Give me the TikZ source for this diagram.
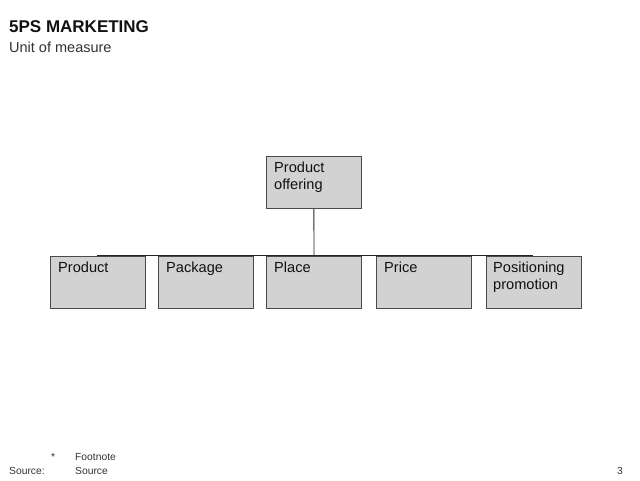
\documentclass[tikz,border=0pt]{standalone}
\usepackage{fontspec}
\setmainfont{Liberation Sans}
\definecolor{boxfill}{HTML}{D2D2D2}
\definecolor{boxline}{HTML}{4A4A4A}
\definecolor{txt}{HTML}{111111}
\definecolor{foot}{HTML}{333333}
\begin{document}
\begin{tikzpicture}[x=1pt,y=-1pt,
  box/.style={draw=boxline, fill=boxfill, line width=0.8pt, minimum width=95pt, minimum height=52pt, anchor=north west, inner sep=0pt},
  lbl/.style={anchor=base west, inner sep=0pt, align=left, text=txt, font=\fontsize{14.6}{17.5}\selectfont},
  conn/.style={draw=black!85, line width=0.9pt},
  small/.style={anchor=base west, inner sep=0pt, text=foot, font=\fontsize{10.3}{12}\selectfont}]
\useasboundingbox (0,0) rectangle (640,480);
% title
\node[anchor=base west, inner sep=0pt, font=\fontsize{17}{20}\selectfont\bfseries, text=txt] (title) at (9,32) {5PS MARKETING};
\node[anchor=base west, inner sep=0pt, font=\fontsize{14.5}{17}\selectfont, text=foot] (unit) at (9,52) {Unit of measure};
% connectors (behind boxes)
\coordinate (busL) at (97,255);
\coordinate (busR) at (533,255);
\coordinate (busM) at (314,255);
\node[box] (top) at (266,156) {};
\draw[conn] (top.south) -- (busM);
\draw[conn] (busL) -- (busR);
% boxes
\node[box] (b1) at (50,256) {};
\node[box] (b2) at (158,256) {};
\node[box] (b3) at (266,256) {};
\node[box] (b4) at (376,256) {};
\node[box] (b5) at (486,256) {};
% labels (base west = baseline of last line)
\node[lbl] (ttop) at ([xshift=8pt,yshift=-33.5pt]top.north west) {Product\\offering};
\node[lbl] (t1) at ([xshift=8pt,yshift=-16pt]b1.north west) {Product};
\node[lbl] (t2) at ([xshift=8pt,yshift=-16pt]b2.north west) {Package};
\node[lbl] (t3) at ([xshift=8pt,yshift=-16pt]b3.north west) {Place};
\node[lbl] (t4) at ([xshift=8pt,yshift=-16pt]b4.north west) {Price};
\node[lbl] (t5) at ([xshift=7pt,yshift=-33.5pt]b5.north west) {Positioning\\promotion};
% footer
\node[small] (star) at (51,460) {*};
\node[small] (fn) at (75,460) {Footnote};
\node[small] (src) at (9,474) {Source:};
\node[small] (srct) at (75,474) {Source};
\node[small] (pg) at (617,474) {3};
\end{tikzpicture}
\end{document}
